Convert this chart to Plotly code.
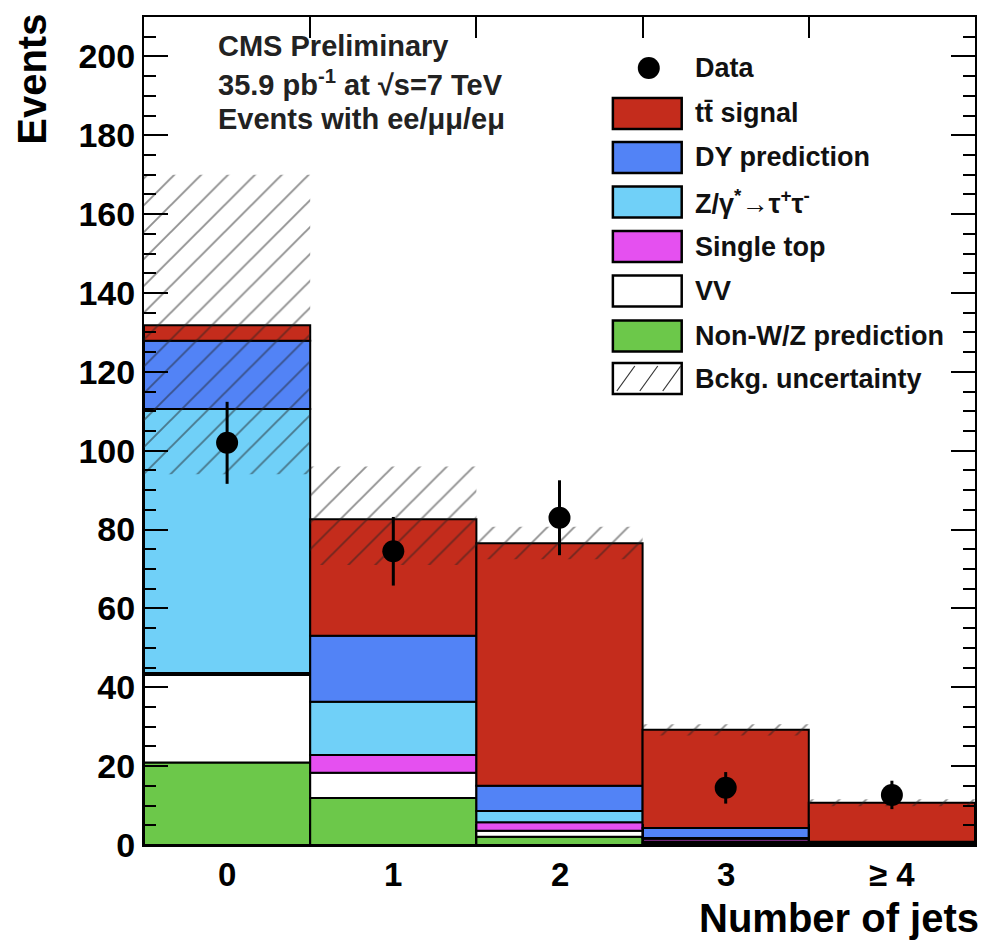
import plotly.graph_objects as go
import numpy as np

# ---------------- data ----------------
categories = ["0", "1", "2", "3", "≥ 4"]
bin_edges = [0.5, 1.5, 2.5, 3.5]
nonwz = [20.9, 11.9, 2.1, 0.5, 0.1]
vv = [22.2, 6.4, 1.5, 0.4, 0.1]
single_top = [0.5, 4.5, 2.2, 0.7, 0.2]
ztautau = [67.0, 13.5, 2.8, 0.2, 0.1]
dy = [17.3, 16.8, 6.4, 2.5, 0.3]
ttbar = [3.9, 29.5, 61.5, 24.9, 9.9]
data = [102, 74.5, 83, 14.5, 12.7]
data_err = [10.4, 8.7, 9.5, 4.0, 3.6]
band_low = [94, 71, 72.5, 27.8, 9.8]
band_high = [170, 96, 80.7, 30.6, 11.6]

# ---------------- styles ----------------
W, H = 986, 943
ML, MR, MT, MB = 144, 9, 17, 98
FONT = "Liberation Sans, Arial, Helvetica, sans-serif"

components = [
    ("Non-W/Z prediction", nonwz, "#6CC84A"),
    ("VV", vv, "#FFFFFF"),
    ("Single top", single_top, "#E550F0"),
    ("Z/γ<sup>*</sup>→τ<sup>+</sup>τ<sup>-</sup>", ztautau, "#70D0F8"),
    ("DY prediction", dy, "#5283F6"),
    ("tt̄ signal", ttbar, "#C42C1C"),
]

x = np.arange(len(categories))
fig = go.Figure()

base = np.zeros(len(categories))
for name, vals, col in components:
    vals = np.array(vals, dtype=float)
    fig.add_trace(go.Bar(
        x=x, y=vals, base=base.copy(), width=1.0, name=name,
        marker=dict(color=col, line=dict(color="black", width=2)),
        showlegend=False,
    ))
    base = base + vals

lo = np.array(band_low, dtype=float)
hi = np.array(band_high, dtype=float)
fig.add_trace(go.Bar(
    x=x, y=hi - lo, base=lo, width=1.0, name="Bckg. uncertainty",
    marker=dict(color="rgba(0,0,0,0)", line=dict(width=0),
                pattern=dict(shape="/", fgcolor="#222222", bgcolor="rgba(0,0,0,0)",
                             size=19, solidity=0.1, fillmode="overlay")),
    showlegend=False,
))

fig.add_trace(go.Scatter(
    x=x, y=data, mode="markers", name="Data",
    marker=dict(color="black", size=22),
    error_y=dict(type="data", array=data_err, color="black", thickness=3, width=0),
    showlegend=False,
))

# ---------------- helpers for pixel -> paper ----------------
PW = W - ML - MR
PH = H - MT - MB


def px(v):
    return (v - ML) / PW


def py(v):
    return (H - MB - v) / PH


shapes = []
annotations = []

# category labels under the bins
for xi, lab in zip(x, categories):
    annotations.append(dict(text=lab, xref="x", yref="paper", x=int(xi), y=py(874),
                            xanchor="center", yanchor="middle", showarrow=False,
                            font=dict(family=FONT, size=33, color="black", weight="bold")))

# legend
leg_items = [
    ("tt̄ signal", "#C42C1C", 113.5),
    ("DY prediction", "#5283F6", 157.5),
    ("Z/γ<sup>*</sup>→τ<sup>+</sup>τ<sup>-</sup>", "#70D0F8", 202),
    ("Single top", "#E550F0", 246.5),
    ("VV", "#FFFFFF", 291),
    ("Non-W/Z prediction", "#6CC84A", 336),
    ("Bckg. uncertainty", "#FFFFFF", 378.5),
]
bx0, bx1 = 614, 683
bh = 31
text_x = 694
for label, col, cy in leg_items:
    shapes.append(dict(type="rect", xref="paper", yref="paper",
                       x0=px(bx0), x1=px(bx1), y0=py(cy + bh / 2), y1=py(cy - bh / 2),
                       fillcolor=col, line=dict(color="black", width=2.5), layer="above"))
    annotations.append(dict(text=label, xref="paper", yref="paper", x=px(text_x), y=py(cy),
                            xanchor="left", yanchor="middle", showarrow=False,
                            font=dict(family=FONT, size=27, color="#111111", weight="bold")))
# hatch lines in uncertainty legend box
cy = 378.5
for sx in [622, 645, 668]:
    shapes.append(dict(type="line", xref="paper", yref="paper",
                       x0=px(sx - 4), y0=py(cy + bh / 2 - 3), x1=px(sx + 14), y1=py(cy - bh / 2 + 3),
                       line=dict(color="#333333", width=1.2)))
# data marker in legend
shapes.append(dict(type="circle", xref="paper", yref="paper",
                   xsizemode="pixel", ysizemode="pixel",
                   xanchor=px(650), yanchor=py(68), x0=-11, x1=11, y0=-11, y1=11,
                   fillcolor="black", line=dict(color="black", width=0), layer="above"))
annotations.append(dict(text="Data", xref="paper", yref="paper", x=px(text_x), y=py(68),
                        xanchor="left", yanchor="middle", showarrow=False,
                        font=dict(family=FONT, size=27, color="#111111", weight="bold")))

# top-left text
for txt, yy in [("CMS Preliminary", 46),
                ("35.9 pb<sup>-1</sup> at √s=7 TeV", 83),
                ("Events with ee/μμ/eμ", 119)]:
    annotations.append(dict(text=txt, xref="paper", yref="paper", x=px(216), y=py(yy),
                            xanchor="left", yanchor="middle", showarrow=False,
                            font=dict(family=FONT, size=29, color="#222222", weight="bold")))

# axis titles
annotations.append(dict(text="Events", xref="paper", yref="paper", x=px(32), y=py(12),
                        xanchor="center", yanchor="top", textangle=-90, showarrow=False,
                        font=dict(family=FONT, size=40, color="black", weight="bold")))
annotations.append(dict(text="Number of jets", xref="paper", yref="paper", x=px(983), y=py(918),
                        xanchor="right", yanchor="middle", showarrow=False,
                        font=dict(family=FONT, size=40, color="black", weight="bold")))

fig.update_layout(
    width=W, height=H,
    margin=dict(l=ML, r=MR, t=MT, b=MB),
    barmode="overlay",
    plot_bgcolor="white", paper_bgcolor="white",
    showlegend=False,
    shapes=shapes, annotations=annotations,
    xaxis=dict(range=[-0.5, 4.5], tickmode="array", tickvals=bin_edges, showticklabels=False,
               ticks="inside", ticklen=21, tickwidth=2, tickcolor="black",
               showgrid=False, zeroline=False,
               showline=True, linecolor="black", linewidth=2, mirror="ticks"),
    yaxis=dict(range=[0, 210], tickmode="linear", tick0=0, dtick=20,
               ticks="inside", ticklen=24, tickwidth=2, tickcolor="black",
               showgrid=False, zeroline=False,
               showline=True, linecolor="black", linewidth=2, mirror="ticks",
               tickfont=dict(family=FONT, size=34, color="black", weight="bold"),
               minor=dict(dtick=5, ticks="inside", ticklen=12, tickwidth=2,
                          tickcolor="black", showgrid=False)),
)

fig.write_html("out.html")
